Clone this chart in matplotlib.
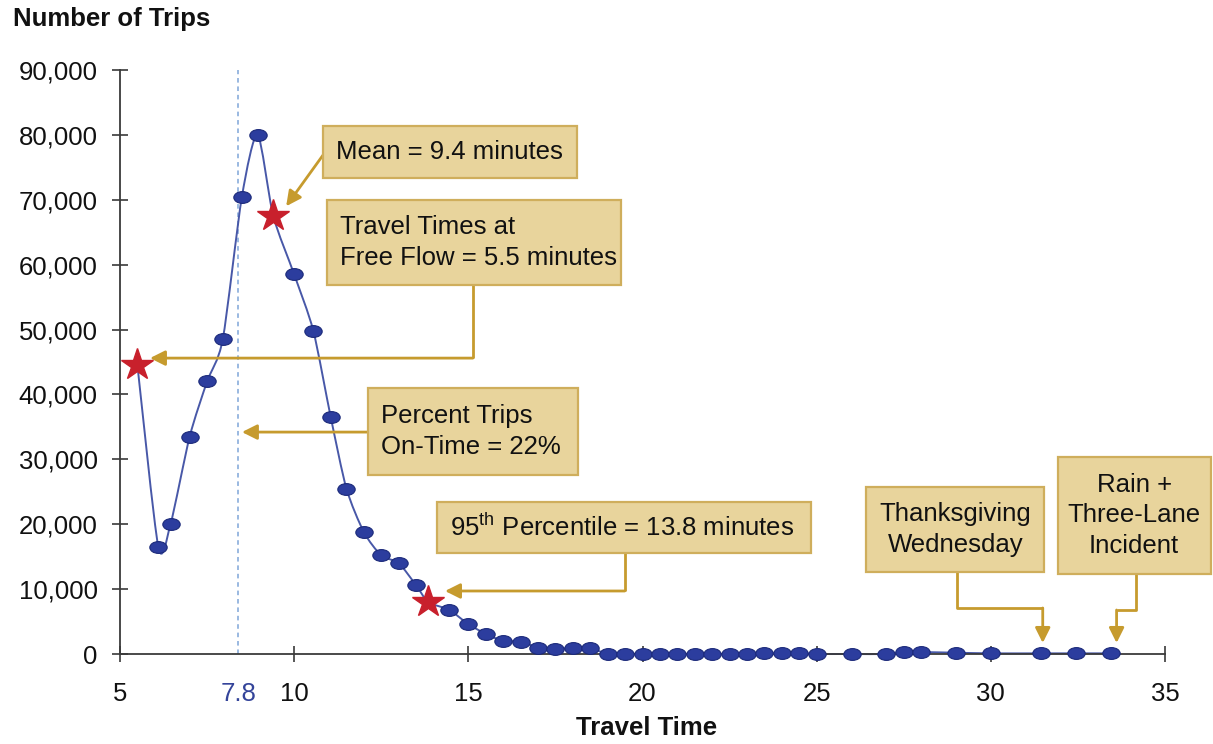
import numpy as np
import matplotlib
matplotlib.use("Agg")
import matplotlib.pyplot as plt
from matplotlib.path import Path
from matplotlib.patches import PathPatch, Rectangle
from matplotlib.transforms import Affine2D
from matplotlib.ticker import FuncFormatter

plt.rcParams['font.family'] = ['Liberation Sans', 'DejaVu Sans']
plt.rcParams['mathtext.fontset'] = 'custom'
plt.rcParams['mathtext.rm'] = 'Liberation Sans'

# travel time (minutes) and number of trips for each dot
trip_time = [6.1, 6.45, 7.0, 7.5, 7.95, 8.5, 8.95, 10.0, 10.55, 11.05, 11.5, 12.0,
             12.5, 13.0, 13.5, 14.45, 15.0, 15.5, 16.0, 16.5, 17.0, 17.5, 18.0,
             18.5, 19.0, 19.5, 20.0, 20.5, 21.0, 21.5, 22.0, 22.5, 23.0, 23.5,
             24.0, 24.5, 25.0, 26.0, 27.0, 27.5, 28.0, 29.0, 30.0, 31.45, 32.45,
             33.45]
trip_count = [16500, 20000, 33500, 42000, 48500, 70500, 80000, 58500, 49800, 36500,
              25500, 18800, 15200, 14000, 10600, 6800, 4600, 3100, 2000, 1900,
              1000, 800, 900, 900, 0, 0, 0, 0, 0, 0, 0, 0, 0, 100, 100, 100, 0,
              0, 0, 300, 300, 200, 100, 100, 100, 100]

# starred points on the curve
star_time = [5.5, 9.4, 13.85]
star_count = [44500, 67500, 8000]

# on-time threshold: label value and where the reference draws its line
on_time_label = "7.8"
on_time_x = 8.39

# annotation boxes: (left, right, bottom, top) in data units, text, alignment
boxes = [
    ((10.825, 18.11, 73350, 81370), "Mean = 9.4 minutes", "left"),
    ((10.94, 19.38, 56870, 69960), "Travel Times at\nFree Flow = 5.5 minutes", "left"),
    ((12.12, 18.14, 27580, 40990), "Percent Trips\nOn-Time = 22%", "left"),
    ((14.10, 24.83, 15560, 23420), "95$^{\\rm th}$ Percentile = 13.8 minutes", "left"),
    ((26.43, 31.54, 12640, 25740), "Thanksgiving\nWednesday", "center"),
    ((31.92, 36.31, 12330, 30360), "Rain +\nThree-Lane\nIncident", "center"),
]

# arrow routes (last segment carries the head)
arrows = [
    [(10.83, 76900), (9.77, 69000)],
    [(15.13, 56870), (15.13, 45600), (5.86, 45600)],
    [(12.12, 34200), (8.50, 34200)],
    [(19.49, 15560), (19.49, 9710), (14.33, 9710)],
    [(29.02, 12640), (29.02, 7090), (31.49, 7090), (31.49, 1700)],
    [(34.18, 12330), (34.18, 6780), (33.61, 6780), (33.61, 1700)],
]

gold = '#c69b2e'
box_fill = '#e8d49c'
box_edge = '#cfae5c'

fig = plt.figure(figsize=(12.13, 7.44), dpi=100)
ax = fig.add_axes([120/1213, 90/744, 1045/1213, 584/744])
ax.set_xlim(5, 35)
ax.set_ylim(0, 90000)

for s in ['top', 'right']:
    ax.spines[s].set_visible(False)
for s in ['left', 'bottom']:
    ax.spines[s].set_color('#3a3a3a')
    ax.spines[s].set_linewidth(1.3)

ax.set_yticks(np.arange(0, 90001, 10000))
ax.yaxis.set_major_formatter(FuncFormatter(lambda v, p: f"{v:,.0f}"))
ax.set_xticks([5, 10, 15, 20, 25, 30, 35])
ax.set_xticks([on_time_x], minor=True)
ax.set_xticklabels([on_time_label], minor=True, color='#34449a')
ax.tick_params(axis='both', which='major', direction='inout', length=12, width=1.2,
               color='#3a3a3a', labelsize=18.5, labelcolor='#111111')
ax.tick_params(axis='y', pad=10)
ax.tick_params(axis='x', which='major', pad=14)
ax.tick_params(axis='x', which='minor', length=0, pad=20, labelsize=18.5)

# dashed on-time line
ax.plot([on_time_x, on_time_x], [0, 90000], color='#7fa5d8', lw=1.1,
        ls=(0, (3, 2.5)), zorder=1)

# smooth curve through all points (Catmull-Rom style cubic Bezier)
cx = np.array(sorted(trip_time + star_time))
order = np.argsort(trip_time + star_time)
cy = np.array(trip_count + star_count)[order]
pts = np.column_stack([cx, cy])
verts = [pts[0]]
codes = [Path.MOVETO]
n = len(pts)
k = 1 / 8.0
for i in range(n - 1):
    p0 = pts[i - 1] if i > 0 else pts[i]
    p1 = pts[i]
    p2 = pts[i + 1]
    p3 = pts[i + 2] if i + 2 < n else pts[i + 1]
    c1 = p1 + (p2 - p0) * k
    c2 = p2 - (p3 - p1) * k
    verts += [c1, c2, p2]
    codes += [Path.CURVE4] * 3
ax.add_patch(PathPatch(Path(verts, codes), fill=False, edgecolor='#4858a8',
                       lw=1.4, clip_on=False, zorder=2))

ellipse = Path.unit_circle().transformed(Affine2D().scale(1.0, 0.68))
ax.plot(trip_time, trip_count, ls='none', marker=ellipse, ms=12.5,
        mfc='#2c3d9e', mec='#1c2a7a', mew=0.8, clip_on=False, zorder=3)
ax.plot(star_time, star_count, ls='none', marker='*', ms=24,
        mfc='#c8202c', mec='#c8202c', clip_on=False, zorder=4)

for (x0, x1, y0, y1), txt, align in boxes:
    ax.add_patch(Rectangle((x0, y0), x1 - x0, y1 - y0, facecolor=box_fill,
                           edgecolor=box_edge, lw=1.6, clip_on=False, zorder=5))
    if align == 'left':
        tx = x0 + 0.37
    else:
        tx = (x0 + x1) / 2
    ax.text(tx, (y0 + y1) / 2, txt, ha=align, va='center', multialignment=align,
            fontsize=18.5, color='#111111', zorder=6, clip_on=False,
            linespacing=1.32)

for route in arrows:
    xs = [p[0] for p in route[:-1]]
    ys = [p[1] for p in route[:-1]]
    if len(route) > 2:
        ax.plot(xs, ys, color=gold, lw=2, solid_capstyle='butt', clip_on=False, zorder=4)
    ax.annotate('', xy=route[-1], xytext=route[-2],
                arrowprops=dict(arrowstyle='-|>,head_length=0.9,head_width=0.45',
                                color=gold, lw=2, shrinkA=0, shrinkB=0),
                annotation_clip=False, zorder=4)

fig.text(13/1213, 1 - 19/744, 'Number of Trips', fontsize=18.5, fontweight='bold',
         ha='left', va='center', color='#111111')
fig.text(647/1213, 1 - 728/744, 'Travel Time', fontsize=18.5, fontweight='bold',
         ha='center', va='center', color='#111111')

fig.savefig('out.png', dpi=100)
